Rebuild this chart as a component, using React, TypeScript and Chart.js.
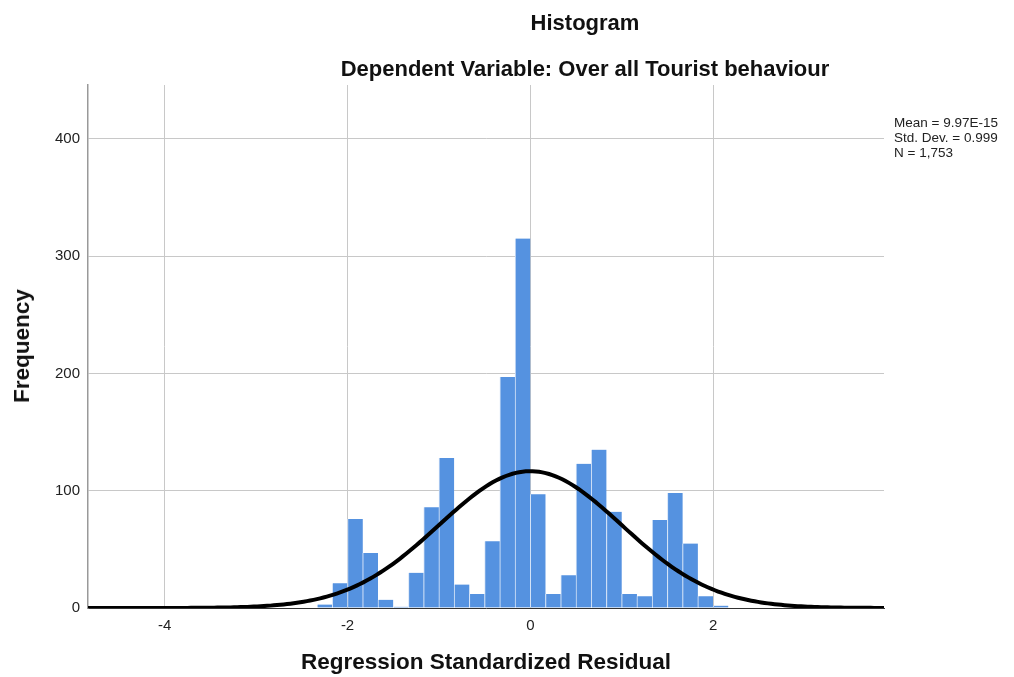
import React, { useEffect, useRef } from "react";
import { Chart, registerables } from "chart.js";

Chart.register(...registerables);

// Histogram bins: width 1/6, first bin starts at -23/6
const BIN_WIDTH = 1 / 6;
const FIRST_BIN_START = -23 / 6;
const counts = [
  1, 0, 0, 0, 0, 0, 0, 0, 0, 3, 21, 76, 47, 7, 1, 30, 86, 128, 20, 12, 57, 197,
  315, 97, 12, 28, 123, 135, 82, 12, 10, 75, 98, 55, 10, 2,
];

// Summary statistics of the residuals
const MEAN = 9.97e-15;
const STD_DEV = 0.999;
const N = 1753;

const xTicks = [-4, -2, 0, 2];
const yTicks = [0, 100, 200, 300, 400];
const statLines = ["Mean = 9.97E-15", "Std. Dev. = 0.999", "N = 1,753"];

const X_MIN = -4.84;
const X_MAX = 3.87;
const Y_MAX = 446;

const FONT = "'Liberation Sans', Arial, sans-serif";

export default function App() {
  const ref = useRef<HTMLCanvasElement | null>(null);

  useEffect(() => {
    if (!ref.current) return;
    const barData = counts.map((c, i) => ({
      x: FIRST_BIN_START + (i + 0.5) * BIN_WIDTH,
      y: c,
    }));
    // fitted normal curve from the stated mean / sd / N
    const curve: { x: number; y: number }[] = [];
    const scaleK = (N * BIN_WIDTH) / (STD_DEV * Math.sqrt(2 * Math.PI));
    for (let k = 0; k <= 240; k++) {
      const x = X_MIN + ((X_MAX - X_MIN) * k) / 240;
      const z = (x - MEAN) / STD_DEV;
      curve.push({ x, y: scaleK * Math.exp(-0.5 * z * z) });
    }

    const chart = new Chart(ref.current, {
      type: "bar",
      data: {
        datasets: [
          {
            type: "line",
            data: curve,
            borderColor: "#000000",
            borderWidth: 4,
            pointRadius: 0,
            tension: 0,
            order: 0,
          } as any,
          {
            type: "bar",
            data: barData,
            backgroundColor: "#5592e0",
            borderColor: "#d6e4f7",
            borderWidth: { left: 1, right: 0, top: 0, bottom: 0 },
            borderSkipped: false,
            barPercentage: 1,
            categoryPercentage: 1,
            order: 1,
          } as any,
        ],
      },
      options: {
        responsive: false,
        animation: false,
        layout: { padding: { top: 85, right: 130, left: 0, bottom: 0 } },
        plugins: {
          legend: { display: false },
          tooltip: { enabled: false },
          title: { display: false },
        },
        scales: {
          x: {
            type: "linear",
            min: X_MIN,
            max: X_MAX,
            offset: false,
            afterBuildTicks: (s: any) => {
              s.ticks = xTicks.map((v) => ({ value: v }));
            },
            afterFit: (s: any) => {
              s.height = 69;
            },
            grid: {
              color: "#c8c8c8",
              lineWidth: 1,
              drawTicks: false,
              offset: false,
            },
            border: { color: "#333333", width: 1 },
            ticks: {
              padding: 9,
              color: "#222222",
              font: { family: FONT, size: 15 },
            },
          },
          y: {
            type: "linear",
            min: 0,
            max: Y_MAX,
            afterBuildTicks: (s: any) => {
              s.ticks = yTicks.map((v) => ({ value: v }));
            },
            afterFit: (s: any) => {
              s.width = 88;
            },
            grid: { color: "#c8c8c8", lineWidth: 1, drawTicks: false },
            border: { color: "#999999", width: 1.5 },
            ticks: {
              padding: 8,
              color: "#222222",
              font: { family: FONT, size: 15 },
            },
          },
        },
      },
    });
    return () => chart.destroy();
  }, []);

  const txt: React.CSSProperties = {
    position: "absolute",
    fontFamily: FONT,
    color: "#111111",
    whiteSpace: "nowrap",
  };

  return (
    <div
      style={{
        position: "absolute",
        left: 0,
        top: 0,
        width: 1014,
        height: 677,
        background: "#ffffff",
        overflow: "hidden",
      }}
    >
      <canvas ref={ref} width={1014} height={677} style={{ display: "block" }} />
      <div
        style={{
          ...txt,
          left: 585,
          top: 11,
          transform: "translateX(-50%)",
          fontSize: 22,
          lineHeight: "24px",
          fontWeight: "bold",
        }}
      >
        Histogram
      </div>
      <div
        style={{
          ...txt,
          left: 585,
          top: 57,
          transform: "translateX(-50%)",
          fontSize: 22,
          lineHeight: "24px",
          fontWeight: "bold",
        }}
      >
        Dependent Variable: Over all Tourist behaviour
      </div>
      <div
        style={{
          ...txt,
          left: 486,
          top: 650,
          transform: "translateX(-50%)",
          fontSize: 22.5,
          lineHeight: "24px",
          fontWeight: "bold",
        }}
      >
        Regression Standardized Residual
      </div>
      <div
        style={{
          ...txt,
          left: 22,
          top: 346,
          transform: "translate(-50%, -50%) rotate(-90deg)",
          fontSize: 22.5,
          lineHeight: "24px",
          fontWeight: "bold",
        }}
      >
        Frequency
      </div>
      <div
        style={{
          ...txt,
          left: 894,
          top: 115,
          fontSize: 13.5,
          lineHeight: "15px",
          color: "#222222",
        }}
      >
        {statLines.map((s) => (
          <div key={s}>{s}</div>
        ))}
      </div>
    </div>
  );
}
